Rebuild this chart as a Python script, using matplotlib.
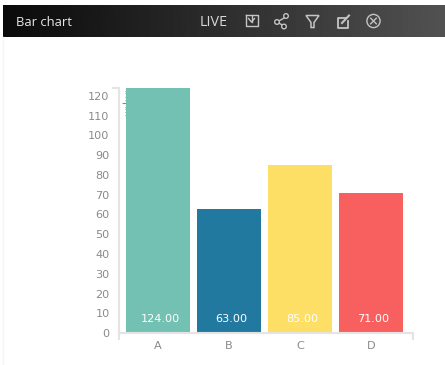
import numpy as np
import matplotlib
matplotlib.use("Agg")
import matplotlib.pyplot as plt
from matplotlib.patches import Rectangle, Circle, Polygon

categories = ["A", "B", "C", "D"]
values = [124, 63, 85, 71]
colors = ["#72c1b3", "#21799f", "#fedf65", "#f86060"]
y_ticks = list(range(0, 121, 10))

W, H = 445, 365
fig = plt.figure(figsize=(W / 100, H / 100), dpi=100, facecolor="white")

# overlay in pixel coordinates for the panel header
ov = fig.add_axes([0, 0, 1, 1], zorder=0)
ov.set_xlim(0, W)
ov.set_ylim(H, 0)
ov.axis("off")
ov.plot([2.5, 2.5], [37, H], color="#f5f5f5", lw=1)
grad = np.linspace(0.04, 0.32, 256).reshape(1, -1)
ov.imshow(grad, extent=[3, W, 37, 5], cmap="gray", vmin=0, vmax=1, aspect="auto", interpolation="bilinear")
ov.set_xlim(0, W)
ov.set_ylim(H, 0)

ov.text(16, 22, "Bar chart", color="#e8e8e8", fontsize=9.4, family="Open Sans", va="center", ha="left")
ov.text(199.5, 22.5, "LIVE", color="#d8d8d8", fontsize=10.4, family="Open Sans", va="center", ha="left")

ic = "#c4c4c4"
lw = 1.0
# download icon
ov.plot([245.5, 245.5, 257.5, 257.5, 245.5], [15, 25.5, 25.5, 15, 15], color=ic, lw=lw)
ov.plot([251.5, 251.5], [15, 22], color=ic, lw=lw, zorder=4)
ov.plot([248.5, 251.5, 254.5], [18.5, 22, 18.5], color=ic, lw=lw, zorder=4)
# share icon
ov.plot([286, 277, 284], [17, 22, 26], color=ic, lw=lw)
for cx, cy in [(286, 16), (277, 22), (284, 26.5)]:
    ov.add_patch(Circle((cx, cy), 2.3, fc="#2a2a2a", ec=ic, lw=lw, zorder=3))
# filter icon
ov.add_patch(Polygon([(306, 15.5), (319, 15.5), (314, 22.5), (314, 27.5), (311, 27.5), (311, 22.5)],
                     closed=True, fc="none", ec=ic, lw=1.1))
# edit icon
ov.plot([346, 337.5, 337.5, 347.5, 347.5], [18, 18, 27.5, 27.5, 21], color=ic, lw=1.3)
ov.plot([342, 349], [23, 15.5], color=ic, lw=1.5)
# close icon
ov.add_patch(Circle((373.5, 21), 6.6, fc="none", ec=ic, lw=1.0))
ov.plot([370.7, 376.3], [18.2, 23.8], color=ic, lw=1.0)
ov.plot([370.7, 376.3], [23.8, 18.2], color=ic, lw=1.0)

# stray clipped marks behind the first bar
for yy, x0 in [(91, 124.5), (93, 124.5), (97, 124.5), (100, 124.5), (103, 122), (107, 124.5), (109, 124.5), (112, 124.5), (115, 124.5)]:
    ov.plot([x0, 126], [yy, yy], color="#8a8a8a", lw=0.8, solid_capstyle="butt")

# chart axes: spans pixels x 118..413, y 88..333
ax = fig.add_axes([118.5 / W, 1 - 333 / H, (413 - 118.5) / W, (333 - 88) / H], zorder=2)
ax.patch.set_alpha(0)
x = np.arange(len(categories))
ax.bar(x, values, width=64 / 71, color=colors, zorder=2, clip_on=False)
ax.set_xlim((118.5 - 158) / 71, (413 - 158) / 71)
ax.set_ylim(0, 245 / 1.975)

for s in ("top", "right"):
    ax.spines[s].set_visible(False)
for s in ("left", "bottom"):
    ax.spines[s].set_color("#e4e4e4")
    ax.spines[s].set_linewidth(1.5)

ax.set_xticks(x, categories)
ax.set_yticks(y_ticks)
ax.tick_params(axis="both", which="major", length=0, labelsize=8.1, labelcolor="#8a8a8a")
ax.tick_params(axis="y", pad=6.5)
ax.tick_params(axis="x", pad=6)
ax.set_xticks(ax.get_xlim(), minor=True)
ax.set_yticks(ax.get_ylim(), minor=True)
ax.tick_params(axis="both", which="minor", length=5, width=1.5, color="#e4e4e4")

for xi, v in zip(x, values):
    ax.annotate(f"{v:.2f}", (xi, 0), xytext=(2.5, 14), textcoords="offset pixels",
                ha="center", va="center", color="white", fontsize=8.1, zorder=3)

fig.savefig("out.png", dpi=100, facecolor="white")
